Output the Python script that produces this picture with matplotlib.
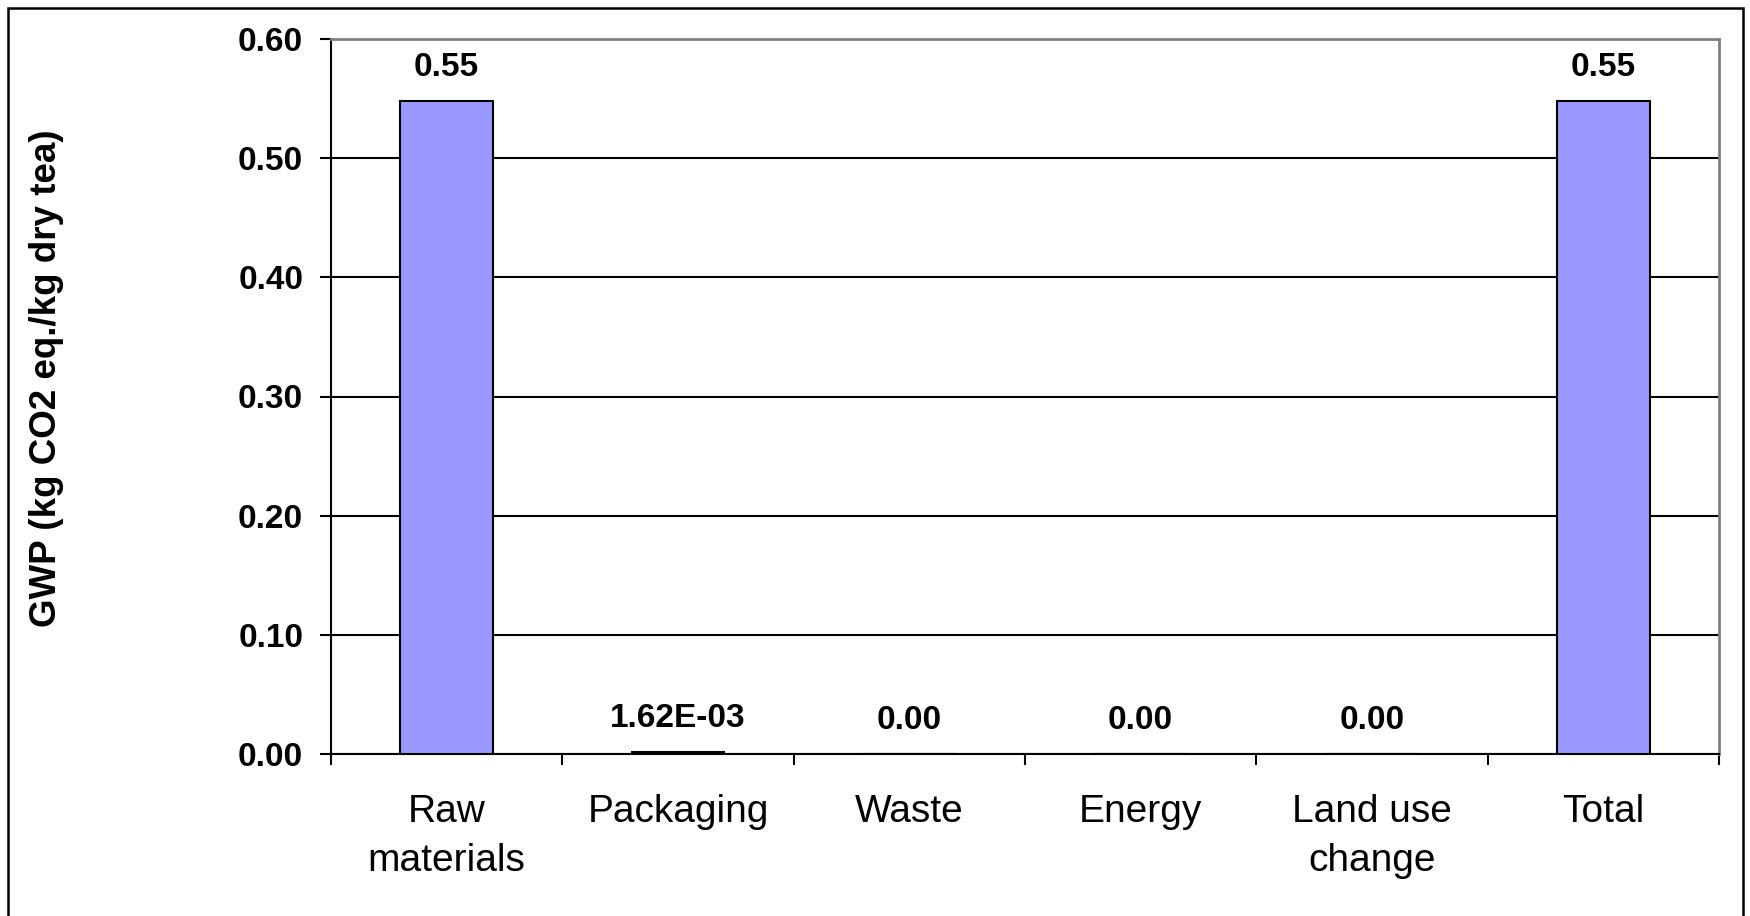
import matplotlib
matplotlib.use("Agg")
import matplotlib.pyplot as plt
from matplotlib.patches import Rectangle

plt.rcParams['font.family'] = ['Liberation Sans', 'DejaVu Sans']

categories = ["Raw\nmaterials", "Packaging", "Waste", "Energy", "Land use\nchange", "Total"]
values = [0.548, 0.00162, 0.0, 0.0, 0.0, 0.548]
y_ticks = [0.0, 0.1, 0.2, 0.3, 0.4, 0.5, 0.6]
y_label = "GWP (kg CO2 eq./kg dry tea)"


def fmt(v):
    if 0 < v < 0.01:
        return f"{v:.2E}"
    return f"{v:.2f}"


fig = plt.figure(figsize=(17.5, 9.16), dpi=100)
ax = fig.add_axes([331 / 1750, 1 - 754 / 916, (1719 - 331) / 1750, (754 - 39) / 916])

x = list(range(len(categories)))
ax.bar(x, values, width=0.4, color="#9999FF", edgecolor="black", linewidth=1.5, zorder=3)

for xi, v in zip(x, values):
    ax.annotate(fmt(v), (xi, v), xytext=(0, 18), textcoords="offset points",
                ha="center", va="baseline", fontsize=24, fontweight="bold")

ax.set_xlim(-0.5, len(categories) - 0.5)
ax.set_ylim(0, 0.6)
ax.set_yticks(y_ticks)
ax.set_yticklabels([f"{t:.2f}" for t in y_ticks], fontsize=24, fontweight="bold")
ax.yaxis.grid(True, color="black", linewidth=1.5, zorder=1)
ax.set_axisbelow(True)

# category boundary ticks on x
ax.set_xticks([i - 0.5 for i in range(len(categories) + 1)])
ax.set_xticklabels([])
ax.set_xticks(x, minor=True)
ax.set_xticklabels(categories, minor=True, fontsize=28, linespacing=1.45)
ax.tick_params(axis="x", which="minor", length=0, pad=29)
ax.tick_params(axis="x", which="major", direction="out", length=8, width=1.5)
ax.tick_params(axis="y", direction="out", length=8, width=1.5, pad=12)

ax.spines["left"].set_color("black")
ax.spines["left"].set_linewidth(1.5)
ax.spines["bottom"].set_color("black")
ax.spines["bottom"].set_linewidth(1.5)
ax.spines["top"].set_color("#808080")
ax.spines["top"].set_linewidth(2)
ax.spines["right"].set_color("#808080")
ax.spines["right"].set_linewidth(2)

fig.text(47 / 1750, 1 - 378 / 916, y_label, rotation=90, ha="center", va="center",
         fontsize=26.5, fontweight="bold")

# outer chart frame
fig.patches.append(Rectangle((8 / 1750, -0.05), (1743 - 8) / 1750, 1 - 8 / 916 + 0.05,
                             transform=fig.transFigure, fill=False, edgecolor="black",
                             linewidth=1.8))

fig.savefig("out.png", dpi=100)
